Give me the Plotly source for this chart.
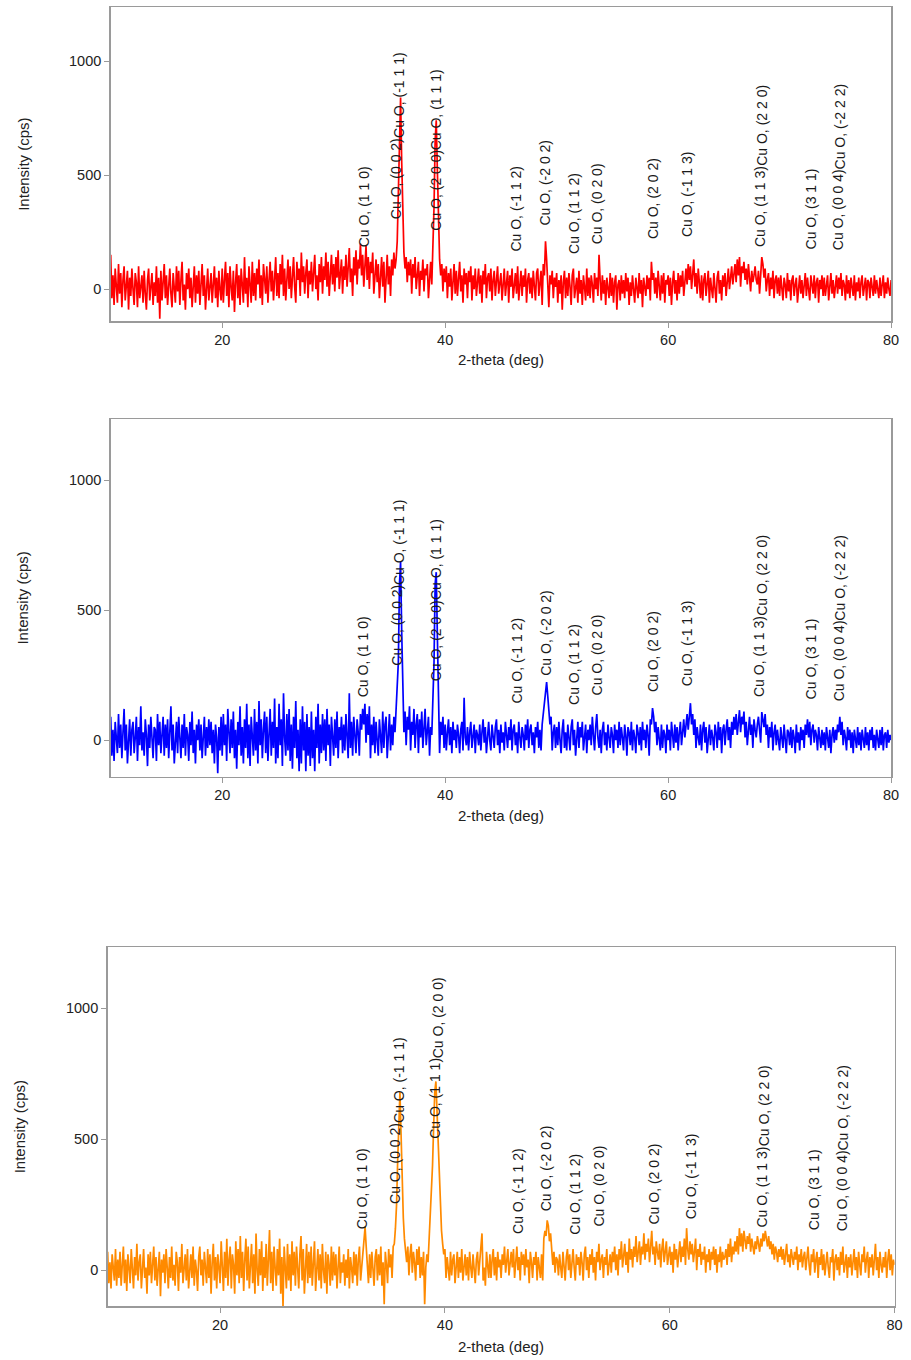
import plotly.graph_objects as go

# 2-theta sampling grid (deg), 0.1 deg step from 10 to 80
two_theta = [round(10 + 0.1 * i, 1) for i in range(701)]

# Intensity (cps), one row per degree
red_counts = [
    150, -40, 60, -70, 90, 20, -60, 110, -20, 70,
    -80, 40, 100, -50, 10, 80, -90, 50, -30, 90,
    0, -70, 70, 30, -80, 100, -40, 20, 60, -60,
    80, -20, -90, 40, 90, -50, 10, 70, -70, 30,
    -30, 100, -60, 50, -130, 80, -50, 20, 110, -40,
    60, -70, 30, 90, -20, -80, 70, 10, -60, 100,
    -10, 80, -70, 40, 120, -50, 20, -90, 70, 0,
    90, -40, 50, -80, 30, 100, -60, 60, -20, 80,
    -70, 40, 110, -30, 60, -90, 20, 90, -50, 30,
    70, -60, 10, 100, -40, 50, -80, 80, 0, -50,
    90, -60, 40, 120, -30, 70, -80, 100, 10, -50,
    80, -100, 30, 110, -40, 60, -70, 90, 20, -60,
    140, -20, 50, -80, 100, 0, -60, 120, -30, 70,
    -50, 90, 20, 130, -40, 60, -70, 110, 30, -20,
    100, -60, 40, 120, -10, 80, -50, 60, 140, -30,
    70, -40, 110, 20, 150, -30, 90, -50, 60, 130,
    0, 100, -40, 80, 140, 10, -60, 120, 40, 90,
    -30, 160, 30, 100, -20, 70, 130, -40, 80, 20,
    120, -10, 90, 150, 0, 60, -50, 110, 30, 140,
    -20, 100, 40, 160, 10, 120, -30, 80, 150, 20,
    110, -10, 140, 50, 170, 0, 90, 130, -20, 100,
    40, 150, 10, 120, 180, 30, 90, -30, 140, 60,
    170, 20, 130, 90, 200, 60, 150, 10, 110, 190,
    40, 140, 0, 120, 70, 160, -20, 90, 130, 30,
    110, -40, 90, 140, 10, 120, -60, 80, 150, 20,
    100, -30, 130, 60, 160, 90, 130, 210, 420, 700,
    840, 560, 260, 160, 90, 140, 30, 120, 60, 130,
    -20, 110, 50, 140, 0, 90, 120, -30, 80, 40,
    130, -10, 90, 60, 110, -40, 70, 120, 20, 160,
    360, 650, 740, 520, 250, 130, 60, 110, -10, 90,
    30, 100, -40, 70, 10, 90, -50, 60, 110, -20,
    80, -30, 50, 120, -10, 60, -60, 90, 20, 70,
    -40, 80, 30, 100, -50, 60, 0, 90, -30, 50,
    90, -20, 60, -60, 80, 20, 110, -40, 50, 70,
    -10, 90, -50, 40, 80, -30, 60, 100, -20, 30,
    70, -50, 50, 90, -30, 20, 80, -60, 60, 10,
    90, -40, 30, 70, -20, 100, -50, 40, 80, -30,
    60, 10, 90, -60, 40, 70, -20, 50, -40, 80,
    20, -50, 70, 90, -30, 40, 80, -70, 110, 60,
    210, 130, 40, -80, 60, 20, 80, -40, 50, 10,
    70, -60, 40, -20, 60, -90, 30, 80, -40, 50,
    -30, 70, 10, -70, 60, 90, -40, 20, 50, -60,
    80, -20, 40, -70, 60, 10, -50, 90, -30, 50,
    -40, 60, 20, -60, 70, 0, 50, -30, 150, 40,
    -50, 60, -20, 40, -70, 50, 10, -40, 70, -30,
    50, -60, 30, 60, -90, 20, 40, -50, 60, -20,
    40, -40, 70, -10, 50, -70, 30, -30, 60, 0,
    -60, 50, 10, -40, 70, -20, 40, -80, 50, 20,
    -30, 60, 0, 50, -50, 120, 40, 70, -20, 50,
    -40, 80, 10, -50, 60, -20, 70, -60, 40, 20,
    60, -30, 50, -70, 30, 80, -20, 40, -50, 70,
    -20, 60, 10, 80, -30, 50, 90, 20, 110, 40,
    100, 0, 80, 130, 10, 70, -20, 90, 30, -40,
    60, -50, 40, 70, -30, 20, 80, -60, 50, 0,
    -40, 70, 20, -60, 50, 80, -20, 40, -50, 60,
    10, 70, -30, 60, 90, 0, 50, 100, 20, 80,
    110, 30, 130, 60, 140, 10, 100, 70, 120, 40,
    90, 20, 110, 50, -10, 80, 30, 60, 100, 40,
    20, 80, -20, 60, 140, 110, 50, 90, -10, 40,
    70, -30, 50, 0, 80, -40, 40, 60, -20, 50,
    -30, 60, 10, -50, 50, 20, -40, 70, -10, 40,
    -50, 40, 60, -30, 20, 50, -60, 30, 60, -20,
    40, -40, 20, 70, -30, 50, 0, -50, 60, 10,
    -20, 60, -40, 30, 50, -60, 40, 0, 60, -30,
    50, -30, 20, 60, -50, 10, 70, -20, 40, -40,
    30, 60, -20, 50, 0, 70, -30, 40, 20, -50,
    60, -20, 40, -40, 50, 10, -30, 60, -50, 30,
    -10, 50, -40, 30, 60, -30, 20, 50, -50, 40,
    30, -40, 50, 0, -30, 60, -20, 40, 10, -40,
    50, -30, 20, 60, -40, 30, -20, 50, 0, -30,
    40,
]

blue_counts = [
    90, -60, 40, -80, 70, 10, -50, 100, -30, 60,
    -70, 30, 120, -40, 60, -90, 20, 80, -60, 40,
    70, -50, 10, 90, -80, 50, -20, 130, -40, 30,
    -60, 80, 20, -100, 60, -30, 90, 0, -70, 50,
    40, -80, 100, -20, 70, -50, 20, 90, -60, 60,
    -30, 80, -70, 40, 130, -40, 60, -90, 30, 70,
    -50, 90, 10, -70, 60, -30, 100, -60, 50, 20,
    -80, 70, -20, 110, -50, 40, -90, 60, 0, 80,
    -40, 60, -70, 30, 90, -60, 50, -30, 80, -20,
    70, -50, 40, -90, 60, 10, -127, 50, -40, 90,
    -60, 100, -20, 60, -80, 120, 0, -50, 80, -30,
    110, -70, 40, -110, 70, -20, 130, -60, 50, -90,
    80, -30, 140, -70, 60, -100, 90, 10, -60, 120,
    -40, 70, -90, 150, -20, 80, -70, 40, 110, -50,
    90, -80, 30, 120, -60, 70, -30, 160, -90, 50,
    -70, 140, -20, 80, -100, 180, 10, -60, 100, -40,
    120, -80, 60, -110, 90, -30, 150, -70, 40, -120,
    80, -90, 130, -40, 70, -120, 100, -60, 50, -100,
    110, -70, 40, -120, 90, -30, 140, -90, 60, -50,
    100, -40, 80, -80, 120, -20, 60, -100, 90, 10,
    -60, 80, -30, 110, -70, 50, 0, 90, -50, 60,
    -40, 100, 20, -70, 180, -30, 70, -60, 90, 10,
    -50, 80, 30, -60, 100, 40, 120, 60, 140, -10,
    100, 20, 130, -70, 60, -20, 90, -50, 70, 0,
    -60, 80, 20, -50, 110, -30, 60, 90, -70, 40,
    100, -40, 60, -20, 90, 30, 120, 150, 300, 600,
    685, 420, 140, 30, 110, -20, 90, 40, 130, -40,
    70, 20, 120, -30, 60, 100, -50, 80, 10, 110,
    -30, 70, 120, -20, 60, 90, -60, 50, 20, 140,
    300, 600, 646, 400, 130, -50, 70, 20, 90, -30,
    60, -40, 30, 80, -20, 50, -50, 70, 0, 40,
    -30, 60, 20, -50, 40, 70, -40, 163, 10, -20,
    50, -40, 30, 70, -30, 10, 60, -50, 40, 20,
    -20, 60, -40, 30, 80, -10, 50, -50, 20, 70,
    0, -40, 60, 20, -30, 50, 80, -20, 40, -50,
    60, -10, 30, -40, 70, 20, -30, 50, 0, 80,
    -40, 40, 60, -20, 30, -50, 70, 10, -30, 50,
    20, -40, 60, 0, 80, -30, 40, 60, -20, 30,
    -50, 50, 10, 70, -30, 40, -40, 60, 100, 130,
    160, 223, 170, 110, 60, 90, -40, 30, 60, -30,
    50, -20, 70, 0, -50, 40, 80, -30, 30, -40,
    60, 10, -40, 50, 80, -20, 40, -60, 20, 70,
    -30, 50, 10, 70, -40, 30, 60, -50, 40, 0,
    60, -20, 90, 20, -40, 50, 100, 10, -30, 40,
    -50, 40, 70, -20, 30, -40, 60, 10, -30, 50,
    20, -50, 60, 0, 40, -30, 70, -20, 50, 10,
    -40, 60, 20, -60, 50, 30, -20, 70, -40, 40,
    10, -50, 60, 30, -20, 50, -40, 70, 0, 40,
    -30, 60, 20, -60, 80, 60, 123, 90, 30, 70,
    -20, 50, 10, -40, 60, -30, 40, 20, -50, 60,
    0, 40, -40, 70, 20, -30, 60, -10, 50, -40,
    30, 70, -20, 50, 80, 10, 60, 100, 40, 90,
    142, 60, 100, 20, 80, -30, 50, 10, -20, 60,
    -40, 40, 70, -10, 50, -50, 30, 60, -20, 40,
    10, -40, 60, 30, -30, 70, 0, 50, -50, 40,
    60, -20, 40, 80, 0, 50, -30, 70, 20, 90,
    40, 100, 20, 80, 115, 30, 90, 60, 110, 10,
    70, -20, 50, 90, 20, 60, -30, 80, 40, 10,
    60, 90, 40, -10, 108, 80, 50, 100, 20, 60,
    -30, 50, 10, 70, -40, 30, 60, -20, 40, 0,
    -40, 50, 20, -30, 60, 0, -50, 40, 30, -20,
    50, -30, 40, 10, -50, 60, -10, 30, -40, 50,
    0, 40, -30, 60, 20, 80, 10, 70, -20, 40,
    60, -10, 40, 20, -40, 50, 0, -30, 40, -20,
    30, -40, 50, 10, -30, 40, -50, 20, 50, -10,
    40, 0, 60, 30, 90, 20, 70, -20, 40, 10,
    -40, 50, 0, 40, -30, 30, -50, 40, 10, -30,
    50, -20, 30, -40, 40, 10, -30, 50, -20, 30,
    -40, 40, 0, 50, -30, 20, -40, 40, 10, -30,
    40, -20, 50, -40, 20, 30, -30, 40, -10, 20,
    0,
]

orange_counts = [
    70, -50, 30, -70, 60, 0, -40, 80, -60, 40,
    -30, 70, -60, 20, 90, -50, 40, -80, 60, 10,
    -50, 80, 20, -70, 50, -20, 100, -40, 30, 60,
    -70, 40, 80, -30, 10, -90, 60, -20, 70, -50,
    30, 90, -40, 50, -60, 20, 70, -100, 40, -10,
    60, -50, 80, 10, -70, 50, -30, 90, -40, 20,
    -60, 70, 30, -80, 50, -10, 100, -50, 30, 60,
    -40, 80, -70, 20, 60, -30, 90, -60, 40, 0,
    -80, 50, 90, -20, 40, -60, 70, 10, -50, 80,
    -30, 60, -90, 30, 100, -40, 50, -70, 60, 10,
    -50, 110, 0, -80, 70, -30, 120, -60, 40, 90,
    -70, 60, 20, -90, 110, -20, 80, -50, 130, -30,
    70, -80, 40, 120, -40, 90, -70, 30, 100, -50,
    60, -90, 140, 0, -60, 80, -20, 110, -80, 50,
    -30, 100, -60, 40, 153, -50, 70, -80, 90, 10,
    -60, 80, -20, 120, -90, 50, -141, 90, 20, -70,
    100, -40, 60, -80, 110, -20, 70, -60, 90, -10,
    -70, 60, 130, -40, 80, -90, 40, 100, -50, 70,
    -30, 90, -60, 50, 110, -80, 30, 80, -40, 60,
    -70, 100, 0, -50, 70, -90, 60, 20, -60, 90,
    -40, 70, -20, 60, -70, 40, 90, -50, 30, -10,
    60, -60, 40, -30, 80, -70, 50, 10, -50, 70,
    -20, 60, -60, 40, 90, -40, 20, 70, 110, 164,
    90, 30, -50, 60, -30, 70, 10, -60, 50, 80,
    -40, 60, -20, 90, -60, 30, -130, 70, 20, -50,
    80, 10, 60, -30, 90, 100, 160, 250, 420, 600,
    680, 520, 330, 200, 120, 80, 30, 90, -20, 60,
    100, -10, 70, 30, -40, 80, 20, 90, -30, 50,
    -20, 70, -130, 10, 60, 30, 120, 180, 260, 400,
    550, 680, 720, 600, 450, 320, 220, 150, 100, 60,
    80, -30, 50, 10, -40, 70, -20, 40, 60, -50,
    30, 70, -30, 50, -10, 80, -40, 20, 60, -20,
    50, -40, 70, 10, -30, 60, 0, -50, 40, 70,
    -20, 30, 60, 140, -40, 10, -60, 70, 20, -30,
    60, -30, 40, 80, -20, 50, -40, 70, 10, 40,
    -30, 60, 20, 90, -10, 50, 80, -20, 40, 70,
    10, 80, -30, 60, 90, 0, 50, -40, 70, 20,
    60, -20, 80, 10, 40, -50, 70, 30, -30, 50,
    20, 70, -40, 50, 10, -30, 60, -40, 120, 150,
    130, 190, 170, 110, 140, 80, 20, 70, -10, 50,
    40, -20, 60, 10, -30, 70, 20, -40, 50, 80,
    0, 60, -30, 40, 80, 10, -40, 60, 20, 50,
    -20, 70, 30, -40, 60, 90, 0, 50, -30, 60,
    20, 80, -10, 50, -40, 70, 30, 100, 0, 40,
    60, -30, 50, 20, 80, -20, 40, 60, -10, 70,
    30, 90, 0, 60, -20, 80, 40, 110, 10, 60,
    100, 20, 70, -10, 120, 40, 80, 10, 90, 50,
    130, 30, 80, 110, 20, 90, 60, 140, 40, 100,
    70, 120, 30, 100, 150, 60, 90, 20, 110, 70,
    40, 100, 10, 80, 120, 30, 70, 110, 20, 60,
    90, 20, 70, -10, 100, 40, 80, 10, 60, 110,
    30, 90, 50, 120, 20, 160, 80, 40, 110, 60,
    100, 30, 70, 120, 0, 80, 50, 100, 20, 70,
    40, 90, -10, 60, 30, 80, 0, 70, 40, 90,
    20, 80, -10, 60, 30, 90, 10, 70, 40, 50,
    80, 20, 100, 50, 120, 30, 90, 60, 110, 70,
    130, 60, 160, 90, 140, 70, 150, 110, 80, 130,
    100, 140, 70, 120, 90, 60, 110, 80, 130, 100,
    70, 120, 90, 140, 110, 150, 120, 90, 130, 80,
    110, 60, 100, 40, 90, 70, 30, 80, 50, 90,
    40, 80, 20, 70, 100, 30, 60, 10, 80, 50,
    20, 70, 40, 90, 0, 60, 30, 80, 10, 50,
    70, 0, 50, 90, 20, -20, 60, 30, 80, -10,
    40, 70, -30, 50, 20, 80, 0, 60, -20, 40,
    70, 10, -30, 50, 30, 80, -40, 40, 60, 0,
    50, -20, 70, 20, 90, -10, 40, 60, -30, 50,
    10, 60, -20, 40, 80, 0, 50, -30, 70, 20,
    -20, 60, 30, 90, -10, 40, 70, -30, 50, 10,
    60, -20, 40, 100, 0, 50, -30, 70, 20, -10,
    50, 10, 70, -30, 40, 80, 0, 60, -20, 40,
    20,
]

x_ticks = [20, 40, 60, 80]
y_ticks = [0, 500, 1000]

# Phase annotations: text, 2-theta position, baseline intensity of the label
labels_top = ["Cu O, (1 1 0)", "Cu O, (0 0 2)", "Cu O, (-1 1 1)", "Cu O, (2 0 0)", "Cu O, (1 1 1)",
              "Cu O, (-1 1 2)", "Cu O, (-2 0 2)", "Cu O, (1 1 2)", "Cu O, (0 2 0)", "Cu O, (2 0 2)",
              "Cu O, (-1 1 3)", "Cu O, (1 1 3)", "Cu O, (2 2 0)", "Cu O, (3 1 1)", "Cu O, (0 0 4)",
              "Cu O, (-2 2 2)"]
labels_bottom = ["Cu O, (1 1 0)", "Cu O, (0 0 2)", "Cu O, (-1 1 1)", "Cu O, (1 1 1)", "Cu O, (2 0 0)",
                 "Cu O, (-1 1 2)", "Cu O, (-2 0 2)", "Cu O, (1 1 2)", "Cu O, (0 2 0)", "Cu O, (2 0 2)",
                 "Cu O, (-1 1 3)", "Cu O, (1 1 3)", "Cu O, (2 2 0)", "Cu O, (3 1 1)", "Cu O, (0 0 4)",
                 "Cu O, (-2 2 2)"]
label_x_1 = [32.7, 35.65, 35.85, 39.1, 39.15, 46.4, 49.0, 51.5, 53.6, 58.6, 61.7, 68.2, 68.35, 72.8, 75.3, 75.45]
label_y_1 = [180, 303, 658, 250, 605, 158, 272, 149, 193, 215, 224, 180, 535, 171, 167, 522]
label_x_2 = [32.7, 35.6, 35.85, 39.15, 39.2, 46.4, 49.1, 51.5, 53.6, 58.6, 61.7, 68.2, 68.35, 72.8, 75.3, 75.45]
label_y_2 = [162, 281, 592, 223, 534, 135, 242, 131, 169, 181, 204, 162, 473, 154, 146, 457]
label_x_3 = [32.6, 35.5, 35.9, 39.05, 39.35, 46.5, 49.0, 51.5, 53.7, 58.6, 61.9, 68.2, 68.35, 72.8, 75.3, 75.45]
label_y_3 = [153, 248, 557, 496, 805, 134, 221, 130, 164, 172, 191, 160, 469, 149, 145, 454]

FONT = "Arial, Liberation Sans, sans-serif"
W, H = 911, 1360


def px_x(v):
    return min(1.0, max(0.0, v / W))


def px_y(v):
    return min(1.0, max(0.0, 1 - v / H))


panels = [
    dict(y=red_counts, color="#ff0000", xd=[111.7, 899], yd=[7, 321], yr=[-140, 1237],
         lx=label_x_1, ly=label_y_1, lt=labels_top, xt=360, yt=23),
    dict(y=blue_counts, color="#0000ff", xd=[111.7, 899], yd=[419, 776.5], yr=[-140, 1235],
         lx=label_x_2, ly=label_y_2, lt=labels_top, xt=815, yt=23),
    dict(y=orange_counts, color="#ff8a00", xd=[108.6, 902.5], yd=[947, 1306], yr=[-137, 1233],
         lx=label_x_3, ly=label_y_3, lt=labels_bottom, xt=1346, yt=20),
]

fig = go.Figure()
annotations = []
layout = dict(width=W, height=H, margin=dict(l=0, r=0, t=0, b=0),
              paper_bgcolor="white", plot_bgcolor="white", showlegend=False,
              font=dict(family=FONT, color="#222222", size=14))

for i, p in enumerate(panels, start=1):
    sfx = "" if i == 1 else str(i)
    fig.add_trace(go.Scatter(x=two_theta, y=p["y"], mode="lines",
                             line=dict(color=p["color"], width=1.7),
                             xaxis="x" + sfx, yaxis="y" + sfx, hoverinfo="skip"))
    axis_common = dict(showline=True, linecolor="#9a9a9a", linewidth=1.5, mirror=True,
                       ticks="outside", ticklen=5, tickcolor="#9a9a9a", tickwidth=1,
                       showgrid=False, zeroline=False,
                       tickfont=dict(family=FONT, size=14.5, color="#222222"))
    layout["xaxis" + sfx] = dict(axis_common, domain=[px_x(p["xd"][0]), px_x(p["xd"][1])],
                                 range=[10, 80], tickvals=x_ticks,
                                 anchor="y" + sfx)
    layout["yaxis" + sfx] = dict(axis_common, domain=[px_y(p["yd"][1]), px_y(p["yd"][0])],
                                 range=p["yr"], tickvals=y_ticks,
                                 anchor="x" + sfx)
    for t, lx, ly in zip(p["lt"], p["lx"], p["ly"]):
        annotations.append(dict(text=t, x=lx, y=ly, xref="x" + sfx, yref="y" + sfx,
                                textangle=-90, xanchor="center", yanchor="bottom",
                                showarrow=False, borderpad=0,
                                font=dict(family=FONT, size=14, color="#1a1a1a")))
    annotations.append(dict(text="2-theta (deg)", x=px_x(505), y=px_y(p["xt"]),
                            xref="paper", yref="paper", xanchor="center", yanchor="middle",
                            showarrow=False, font=dict(family=FONT, size=15, color="#222222")))
    annotations.append(dict(text="Intensity (cps)", x=px_x(p["yt"]),
                            y=px_y((p["yd"][0] + p["yd"][1]) / 2),
                            xref="paper", yref="paper", xanchor="center", yanchor="middle",
                            textangle=-90, showarrow=False,
                            font=dict(family=FONT, size=15, color="#222222")))

layout["annotations"] = annotations
fig.update_layout(**layout)
# remove the default page margin so the figure sits at the window's top-left corner
fig.write_html("out.html",
               config={"displayModeBar": False, "staticPlot": True},
               post_script="document.body.style.margin='0';document.body.style.overflow='hidden';")
